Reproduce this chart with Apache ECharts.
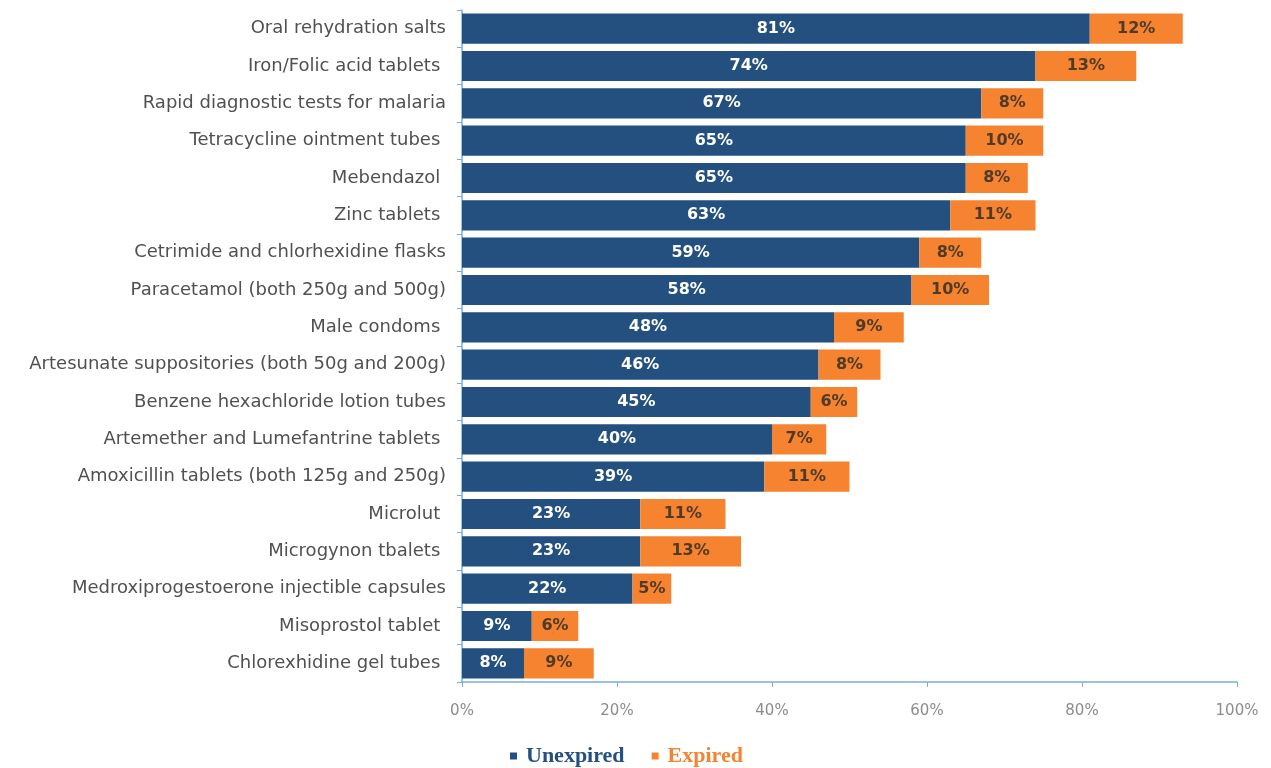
<!DOCTYPE html>
<html>
<head>
<meta charset="utf-8">
<script src="https://cdn.jsdelivr.net/npm/echarts@6/dist/echarts.min.js"></script>
<style>
  html, body { margin: 0; padding: 0; background: #fff; }
  #chart { width: 1271px; height: 768px; }
</style>
</head>
<body>
<div id="chart"></div>
<script>
const categories = [
  "Oral rehydration salts",
  "Iron/Folic acid tablets ",
  "Rapid diagnostic tests for malaria",
  "Tetracycline ointment tubes ",
  "Mebendazol ",
  "Zinc tablets ",
  "Cetrimide and chlorhexidine flasks",
  "Paracetamol (both 250g and 500g)",
  "Male condoms ",
  "Artesunate suppositories (both 50g and 200g)",
  "Benzene hexachloride lotion tubes",
  "Artemether and Lumefantrine tablets ",
  "Amoxicillin tablets (both 125g and 250g)",
  "Microlut ",
  "Microgynon tbalets ",
  "Medroxiprogestoerone injectible capsules",
  "Misoprostol tablet ",
  "Chlorexhidine gel tubes "
];
const unexpired = [81, 74, 67, 65, 65, 63, 59, 58, 48, 46, 45, 40, 39, 23, 23, 22, 9, 8];
const expired = [12, 13, 8, 10, 8, 11, 8, 10, 9, 8, 6, 7, 11, 11, 13, 5, 6, 9];
const xTicks = [0, 20, 40, 60, 80, 100];

const chart = echarts.init(document.getElementById("chart"));
const option = {
  animation: false,
  grid: { left: 462, right: 34, top: 10, bottom: 86 },
  legend: {
    left: 505,
    top: 740,
    itemWidth: 7,
    itemHeight: 7,
    itemGap: 27,
    icon: "rect",
    textStyle: {
      fontFamily: "Liberation Serif",
      fontSize: 22,
      fontWeight: "bold",
      color: "inherit",
      padding: [0, 0, 0, 4]
    },
    data: ["Unexpired", "Expired"]
  },
  xAxis: {
    type: "value",
    min: 0,
    max: 100,
    interval: 20,
    axisLine: { show: true, lineStyle: { color: "#7aaee0", width: 1.5 } },
    axisTick: { show: true, length: 5, lineStyle: { color: "#7aaee0" } },
    splitLine: { show: false },
    axisLabel: {
      color: "#8c8c8c",
      fontSize: 15,
      margin: 22,
      fontFamily: "DejaVu Sans",
      formatter: (v) => (xTicks.includes(v) ? v + "%" : "")
    }
  },
  yAxis: {
    type: "category",
    inverse: true,
    data: categories,
    axisLine: { show: true, lineStyle: { color: "#7aaee0", width: 1.5 } },
    axisTick: { show: true, length: 5, lineStyle: { color: "#7aaee0" } },
    axisLabel: {
      color: "#505050",
      fontSize: 18,
      margin: 16,
      fontFamily: "DejaVu Sans"
    }
  },
  series: [
    {
      name: "Unexpired",
      type: "bar",
      stack: "total",
      barCategoryGap: "19%",
      data: unexpired,
      itemStyle: { color: "#24507f" },
      label: {
        show: true,
        position: "inside",
        color: "#ffffff",
        fontWeight: "bold",
        fontSize: 16,
        fontFamily: "DejaVu Sans",
        formatter: (p) => p.value + "%"
      }
    },
    {
      name: "Expired",
      type: "bar",
      stack: "total",
      data: expired,
      itemStyle: { color: "#f5832f" },
      label: {
        show: true,
        position: "inside",
        color: "#503a28",
        fontWeight: "bold",
        fontSize: 16,
        fontFamily: "DejaVu Sans",
        formatter: (p) => p.value + "%"
      }
    }
  ]
};
chart.setOption(option);
</script>
</body>
</html>
